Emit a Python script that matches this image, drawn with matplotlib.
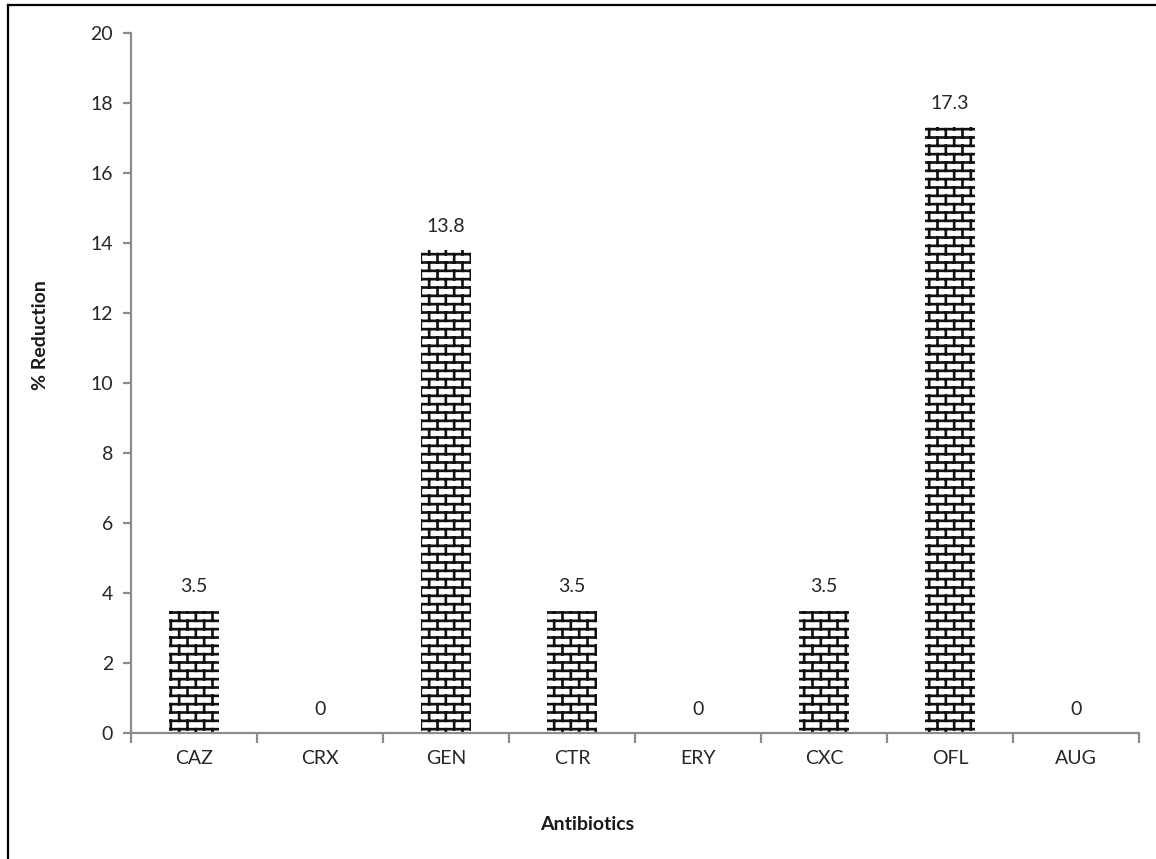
import numpy as np
import matplotlib
matplotlib.use("Agg")
import matplotlib.pyplot as plt
import matplotlib.hatch as mhatch
from matplotlib.path import Path
from matplotlib.lines import Line2D

# data
antibiotics = ["CAZ", "CRX", "GEN", "CTR", "ERY", "CXC", "OFL", "AUG"]
reduction = [3.5, 0, 13.8, 3.5, 0, 3.5, 17.3, 0]
yticks = [0, 2, 4, 6, 8, 10, 12, 14, 16, 18, 20]


# Excel style "horizontal brick" fill, registered as a hatch pattern
class BrickHatch(mhatch.HatchPatternBase):
    rows = 12
    cols = 6

    def __init__(self, hatch, density):
        n = hatch.count('-')
        self.on = n > 0
        # horizontal lines + vertical segments (last row is split over the tile edge)
        self.num_vertices = (self.rows * 2 + (self.rows - 1) * self.cols * 2
                             + self.cols * 4) if self.on else 0

    def set_vertices_and_codes(self, vertices, codes):
        r, c = self.rows, self.cols
        verts = []
        for i in range(r):
            y = (i + 0.5) / r
            verts += [(0.0, y), (1.0, y)]
        for i in range(r):
            y0 = (i + 0.5) / r
            y1 = (i + 1.5) / r
            for j in range(c):
                x = (j + 0.25 + 0.5 * (i % 2)) / c
                if i < r - 1:
                    verts += [(x, y0), (x, y1)]
                else:
                    verts += [(x, y0), (x, 1.0), (x, 0.0), (x, y1 - 1.0)]
        vertices[:] = np.array(verts)
        codes[0::2] = Path.MOVETO
        codes[1::2] = Path.LINETO


mhatch._hatch_types[:] = [BrickHatch]

plt.rcParams['font.family'] = ['Lato', 'DejaVu Sans']
plt.rcParams['hatch.linewidth'] = 1.9

W, H = 1156, 859
fig = plt.figure(figsize=(W / 100, H / 100), dpi=100)
ax = fig.add_axes([131 / W, (H - 733) / H, 1008 / W, 700 / H])

x = np.arange(len(antibiotics))
bars = ax.bar(x, reduction, width=0.40, color='white', edgecolor='#111111',
              linewidth=0, hatch='-')

fs = 14
txt_col = '#262626'
for xi, v in zip(x, reduction):
    ax.annotate(f"{v:g}", (xi, v), xytext=(0, 13), textcoords='offset points',
                ha='center', va='baseline', fontsize=fs, color=txt_col)

ax.set_xlim(-0.5, len(antibiotics) - 0.5)
ax.set_ylim(0, 20)
ax.set_yticks(yticks)
ax.set_xticks(x)
ax.set_xticklabels(antibiotics)
ax.set_xticks(np.arange(len(antibiotics) + 1) - 0.5, minor=True)

axis_col = '#8c8c8c'
for s in ['top', 'right']:
    ax.spines[s].set_visible(False)
for s in ['left', 'bottom']:
    ax.spines[s].set_color(axis_col)
    ax.spines[s].set_linewidth(1.6)

ax.tick_params(axis='y', direction='out', length=6, width=1.6, color=axis_col,
               labelsize=fs, labelcolor=txt_col, pad=7)
ax.tick_params(axis='x', which='major', length=0, labelsize=fs,
               labelcolor=txt_col, pad=12)
ax.tick_params(axis='x', which='minor', direction='out', length=7, width=1.6,
               color=axis_col)

fig.text(587 / W, 1 - 825 / H, "Antibiotics", ha='center', va='center',
         fontsize=fs, fontweight='bold', color='#1a1a1a')
fig.text(41 / W, 1 - 335 / H, "% Reduction", ha='center', va='center',
         rotation=90, fontsize=fs, fontweight='bold', color='#1a1a1a')

# outer chart frame (only top and left edges are inside the picture)
fig.add_artist(Line2D([8 / W, 1.0], [1 - 5 / H, 1 - 5 / H], color='black',
                      linewidth=1.6, transform=fig.transFigure))
fig.add_artist(Line2D([8 / W, 8 / W], [1 - 5 / H, 0.0], color='black',
                      linewidth=1.6, transform=fig.transFigure))

fig.savefig("out.png", dpi=100)
